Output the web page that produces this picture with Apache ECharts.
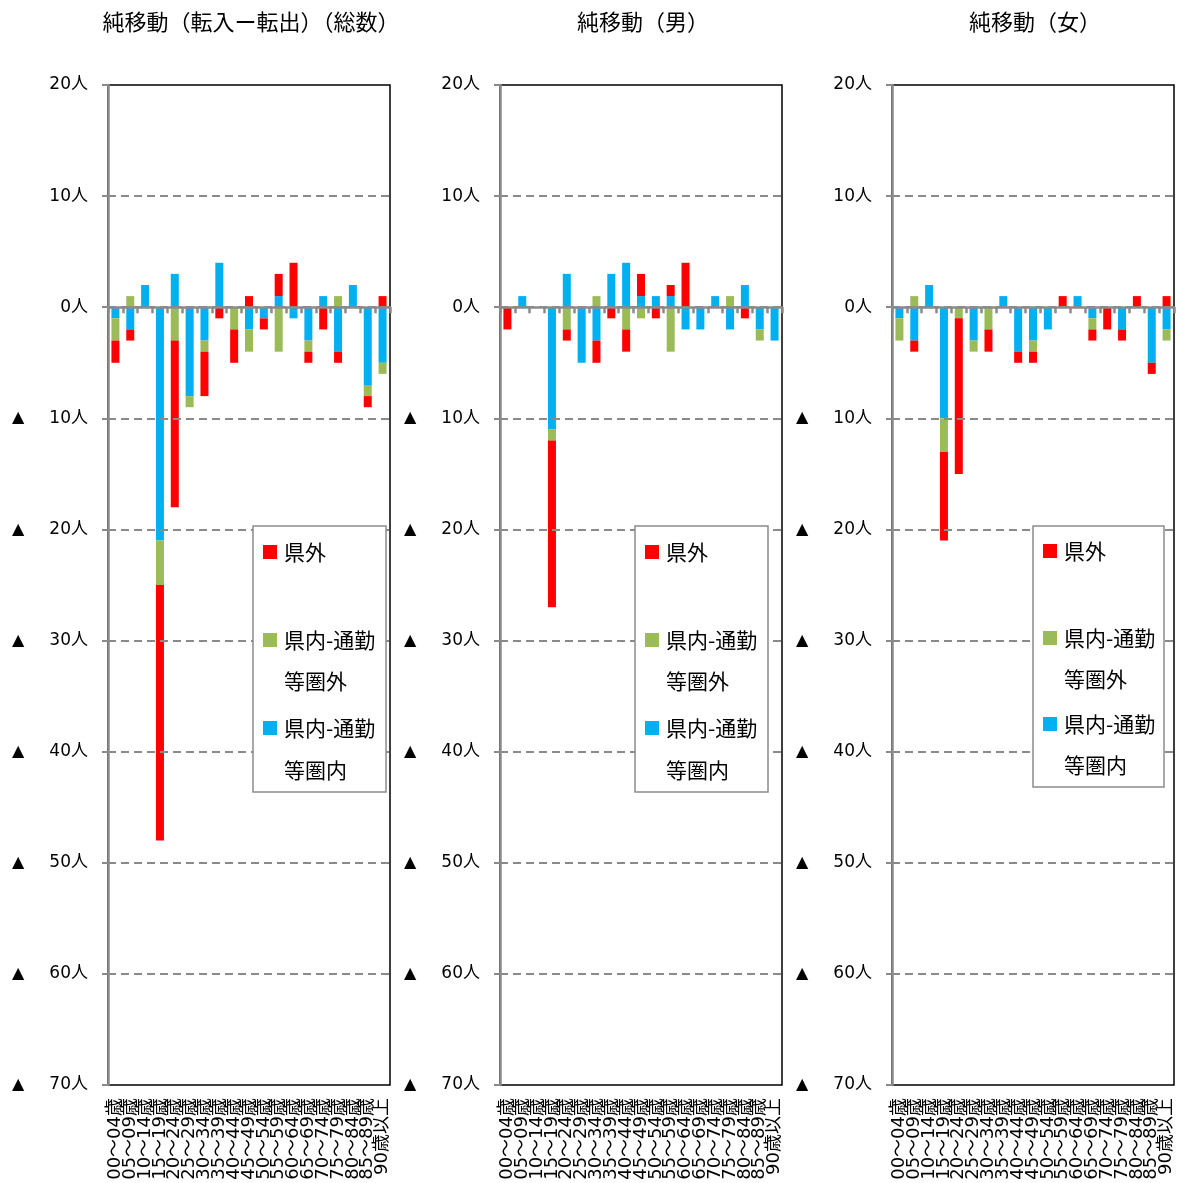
<!DOCTYPE html>
<html>
<head>
<meta charset="utf-8">
<title>純移動</title>
<script src="https://cdn.jsdelivr.net/npm/echarts@6/dist/echarts.min.js"></script>
<style>
  html, body { margin: 0; padding: 0; background: #ffffff; }
  #chart { width: 1179px; height: 1183px; }
</style>
</head>
<body>
<div id="chart"></div>
<script>
// 年齢階級
const categories = [
  '00～04歳', '05～09歳', '10～14歳', '15～19歳', '20～24歳', '25～29歳',
  '30～34歳', '35～39歳', '40～44歳', '45～49歳', '50～54歳', '55～59歳',
  '60～64歳', '65～69歳', '70～74歳', '75～79歳', '80～84歳', '85～89歳', '90歳以上'
];

// 純移動（人）: 県内-通勤等圏内 / 県内-通勤等圏外 / 県外
const totalInner  = [-1, -2, 2, -21, 3, -8, -3, 4, 0, -2, -1, 1, -1, -3, 1, -4, 2, -7, -5];
const totalOuter  = [-2, 1, 0, -4, -3, -1, -1, 0, -2, -2, 0, -4, 0, -1, 0, 1, 0, -1, -1];
const totalOther  = [-2, -1, 0, -23, -15, 0, -4, -1, -3, 1, -1, 2, 4, -1, -2, -1, 0, -1, 1];

const maleInner   = [0, 1, 0, -11, 3, -5, -3, 3, 4, 1, 1, 1, -2, -2, 1, -2, 2, -2, -3];
const maleOuter   = [0, 0, 0, -1, -2, 0, 1, 0, -2, -1, 0, -4, 0, 0, 0, 1, 0, -1, 0];
const maleOther   = [-2, 0, 0, -15, -1, 0, -2, -1, -2, 2, -1, 1, 4, 0, 0, 0, -1, 0, 0];

const femaleInner = [-1, -3, 2, -10, 0, -3, 0, 1, -4, -3, -2, 0, 1, -1, 0, -2, 0, -5, -2];
const femaleOuter = [-2, 1, 0, -3, -1, -1, -2, 0, 0, -1, 0, 0, 0, -1, 0, 0, 0, 0, -1];
const femaleOther = [0, -1, 0, -8, -14, 0, -2, 0, -1, -1, 0, 1, 0, -1, -2, -1, 1, -1, 1];

const panelTitles = ['純移動（転入ー転出）（総数）', '純移動（男）', '純移動（女）'];
const seriesNames = ['県内-通勤等圏内', '県内-通勤等圏外', '県外'];
const legendLines = [['県外'], ['県内-通勤', '等圏外'], ['県内-通勤', '等圏内']];

// y 軸の目盛り
const yMin = -70, yMax = 20, yStep = 10;

const panels = [
  [totalInner, totalOuter, totalOther],
  [maleInner, maleOuter, maleOther],
  [femaleInner, femaleOuter, femaleOther]
];

const colors = ['#00B0F0', '#9BBB59', '#FF0000'];
const numFont = "'DejaVu Sans', 'Noto Sans CJK JP', sans-serif";
const jpFont = "'Noto Sans CJK JP', 'DejaVu Sans', sans-serif";
const axisGray = '#8a8a8a';

const gridLefts = [108, 500, 892];
const gridWidth = 282;
const gridTop = 85;
const gridHeight = 1000;

const chart = echarts.init(document.getElementById('chart'), null, { renderer: 'canvas' });

const grid = [], xAxis = [], yAxis = [], series = [], title = [];

panels.forEach((vals, i) => {
  grid.push({
    left: gridLefts[i], top: gridTop, width: gridWidth, height: gridHeight,
    show: true, borderColor: '#000000', borderWidth: 1.5, backgroundColor: 'transparent'
  });

  // 目盛りラベル用（下端）
  xAxis.push({
    type: 'category', gridIndex: i, data: categories, position: 'bottom',
    axisLine: { show: false, onZero: false },
    axisTick: { show: false },
    axisLabel: {
      interval: 0, rotate: 90, margin: 13, color: '#000',
      fontSize: 18, fontFamily: numFont
    }
  });
  // 0 の基準線
  xAxis.push({
    type: 'category', gridIndex: i, data: categories, position: 'top', z: 3,
    axisLine: { show: true, onZero: true, lineStyle: { color: axisGray, width: 2.5 } },
    axisTick: { show: true, interval: 0, inside: true, length: 6, lineStyle: { color: axisGray, width: 2.5 } },
    axisLabel: { show: false },
    splitLine: { show: false }
  });

  const splitColors = [];
  for (let v = yMin; v <= yMax; v += yStep) {
    splitColors.push(v === yMin || v === yMax ? 'rgba(0,0,0,0)' : axisGray);
  }

  yAxis.push({
    type: 'value', gridIndex: i, min: yMin, max: yMax, interval: yStep, z: 3,
    axisLine: { show: true, lineStyle: { color: axisGray, width: 2.5 } },
    axisTick: { show: true, length: 6, lineStyle: { color: axisGray, width: 2 } },
    splitLine: { show: true, lineStyle: { color: splitColors, width: 2, type: [8, 5] } },
    axisLabel: {
      margin: 20, color: '#000', fontSize: 17, fontFamily: numFont,
      formatter: v => v < 0 ? '{t|▲}{n|' + (-v) + '人}' : '{n|' + v + '人}',
      rich: {
        t: { width: 18, align: 'left', fontSize: 16, fontFamily: numFont, color: '#000' },
        n: { width: 58, align: 'right', fontSize: 17, fontFamily: numFont, color: '#000' }
      }
    }
  });

  vals.forEach((arr, k) => {
    series.push({
      type: 'bar', name: seriesNames[k], stack: 'panel' + i,
      xAxisIndex: i * 2, yAxisIndex: i,
      data: arr, barWidth: 8,
      itemStyle: { color: colors[k] },
      emphasis: { disabled: true }
    });
  });

  title.push({
    text: panelTitles[i],
    left: gridLefts[i] + gridWidth / 2 - 3, top: 6, textAlign: 'center',
    textStyle: { fontSize: 22, fontWeight: 'normal', color: '#000', fontFamily: jpFont }
  });
});

// 凡例（各パネル右下）
const legendBoxes = [
  { left: 253, top: 526, w: 133, h: 266, ys: [552, 640, 681, 728, 770] },
  { left: 635, top: 526, w: 133, h: 266, ys: [552, 640, 681, 728, 770] },
  { left: 1033, top: 526, w: 131, h: 261, ys: [551, 638, 679, 724, 765] }
];
const legendColors = [colors[2], colors[1], colors[0]];

const graphic = [];
legendBoxes.forEach(b => {
  graphic.push({
    type: 'rect', z: 100, zlevel: 1,
    shape: { x: b.left, y: b.top, width: b.w, height: b.h },
    style: { fill: '#ffffff', stroke: '#8c8c8c', lineWidth: 1.5 }
  });
  let line = 0;
  legendLines.forEach((lines, k) => {
    graphic.push({
      type: 'rect', z: 101, zlevel: 1,
      shape: { x: b.left + 10, y: b.ys[line] - 7, width: 14, height: 14 },
      style: { fill: legendColors[k] }
    });
    lines.forEach(txt => {
      graphic.push({
        type: 'text', z: 101, zlevel: 1,
        x: b.left + 31, y: b.ys[line],
        style: {
          text: txt, fill: '#000', fontSize: 21, fontFamily: jpFont,
          verticalAlign: 'middle', align: 'left'
        }
      });
      line++;
    });
  });
});

chart.setOption({
  animation: false,
  backgroundColor: '#ffffff',
  title, grid, xAxis, yAxis, series, graphic
});
</script>
</body>
</html>
